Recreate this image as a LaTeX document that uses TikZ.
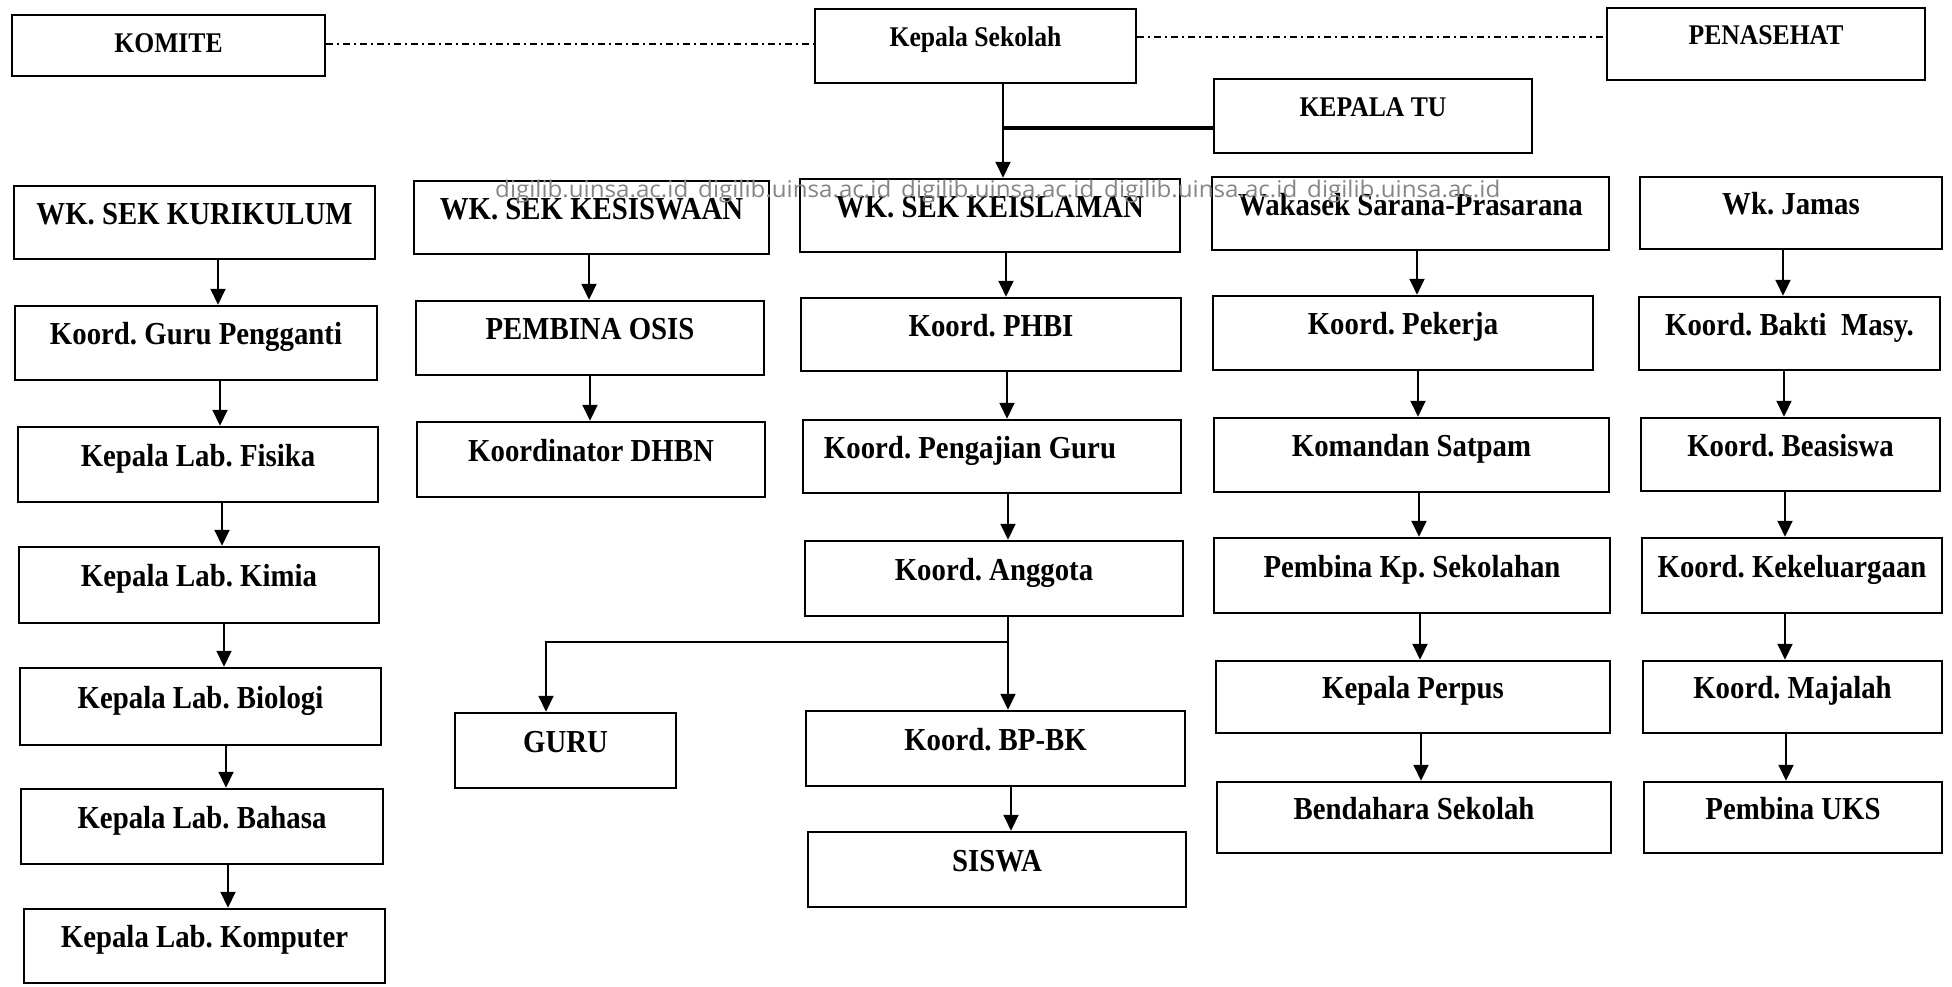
\documentclass[tikz,border=0pt]{standalone}
\usepackage{fontspec}
\setmainfont{Liberation Serif}[FakeStretch=0.9]
\newfontfamily\wmfont{Open Sans}[FakeStretch=1.05]
\usetikzlibrary{arrows.meta}
\frenchspacing
\newcommand\bx[7]{%
  \node[#1, minimum width={(#5-#3)*1pt}, minimum height={(#6-#4)*1pt}]
    (#2) at ({(#3+#5)/2},{(#4+#6)/2}) {#7};}
\begin{document}
\begin{tikzpicture}[x=1pt,y=-1pt,
  box/.style={draw, line width=2.5pt, rectangle, inner sep=0pt,
    text height=24pt, text depth=21pt,
    font=\fontsize{32}{36}\selectfont\bfseries},
  topbox/.style={box, text height=21pt, text depth=21pt,
    font=\fontsize{28.5}{32}\selectfont\bfseries},
  conn/.style={line width=2pt},
  arr/.style={conn, -{Triangle[width=15pt,length=16pt]}},
  dashdot/.style={line width=1.7pt, dash pattern=on 7pt off 4pt on 2pt off 4pt},
  wm/.style={anchor=base west, inner sep=0pt, text=black!48,
    font=\wmfont\fontsize{23}{26}\selectfont}]
\useasboundingbox (0,0) rectangle (1952,986);

% top level
\bx{topbox, text height=27pt, text depth=14pt}{komite}{12}{15}{325}{76}{KOMITE}
\bx{topbox}{kepsek}{815}{9}{1136}{83}{Kepala Sekolah}
\bx{topbox}{penasehat}{1607}{8}{1925}{80}{PENASEHAT}
\bx{topbox}{kepalatu}{1214}{79}{1532}{153}{KEPALA TU}

% row 2
\bx{box}{kurikulum}{14}{186}{375}{259}{WK. SEK KURIKULUM}
\bx{box}{kesiswaan}{414}{181}{769}{254}{WK. SEK KESISWAAN}
\bx{box}{keislaman}{800}{179}{1180}{252}{WK. SEK KEISLAMAN}
\bx{box}{sarpras}{1212}{177}{1609}{250}{Wakasek Sarana-Prasarana}
\bx{box}{jamas}{1640}{177}{1942}{249}{Wk. Jamas}

% column 1
\bx{box}{gurupengganti}{15}{306}{377}{380}{Koord. Guru Pengganti}
\bx{box}{fisika}{18}{427}{378}{502}{Kepala Lab. Fisika}
\bx{box}{kimia}{19}{547}{379}{623}{Kepala Lab. Kimia}
\bx{box}{biologi}{20}{668}{381}{745}{Kepala Lab. Biologi}
\bx{box}{bahasa}{21}{789}{383}{864}{Kepala Lab. Bahasa}
\bx{box}{komputer}{24}{909}{385}{983}{Kepala Lab. Komputer}

% column 2
\bx{box}{osis}{416}{301}{764}{375}{PEMBINA OSIS}
\bx{box}{dhbn}{417}{422}{765}{497}{Koordinator DHBN}

% column 3
\bx{box}{phbi}{801}{298}{1181}{371}{Koord. PHBI}
\bx{box}{pengajian}{803}{420}{1181}{493}{Koord. Pengajian Guru\hspace*{44pt}}
\bx{box}{anggota}{805}{541}{1183}{616}{Koord. Anggota}
\bx{box}{bpbk}{806}{711}{1185}{786}{Koord. BP-BK}
\bx{box}{guru}{455}{713}{676}{788}{GURU}
\bx{box}{siswa}{808}{832}{1186}{907}{SISWA}

% column 4
\bx{box}{pekerja}{1213}{296}{1593}{370}{Koord. Pekerja}
\bx{box}{satpam}{1214}{418}{1609}{492}{Komandan Satpam}
\bx{box}{kampung}{1214}{538}{1610}{613}{Pembina Kp. Sekolahan}
\bx{box}{perpus}{1216}{661}{1610}{733}{Kepala Perpus}
\bx{box}{bendahara}{1217}{782}{1611}{853}{Bendahara Sekolah}

% column 5
\bx{box}{bakti}{1639}{297}{1940}{370}{Koord. Bakti~ Masy.}
\bx{box}{beasiswa}{1641}{418}{1940}{491}{Koord. Beasiswa}
\bx{box}{keluarga}{1642}{538}{1942}{613}{Koord. Kekeluargaan}
\bx{box}{majalah}{1643}{661}{1942}{733}{Koord. Majalah}
\bx{box}{uks}{1644}{782}{1942}{853}{Pembina UKS}

% dash-dot links
\draw[dashdot] (komite.east |- 0,44) -- (kepsek.west |- 0,44);
\draw[dashdot] (kepsek.east |- 0,37) -- (penasehat.west |- 0,37);

% Kepala Sekolah
\draw[arr] (kepsek.south -| 1003,0) -- (keislaman.north -| 1003,0);
\coordinate (tujn) at (1003,128);
\draw[conn, line width=3.4pt] (tujn) -- (kepalatu.west |- tujn);

% column 1 arrows
\draw[arr] (kurikulum.south -| 218,0) -- (gurupengganti.north -| 218,0);
\draw[arr] (gurupengganti.south -| 220,0) -- (fisika.north -| 220,0);
\draw[arr] (fisika.south -| 222,0) -- (kimia.north -| 222,0);
\draw[arr] (kimia.south -| 224,0) -- (biologi.north -| 224,0);
\draw[arr] (biologi.south -| 226,0) -- (bahasa.north -| 226,0);
\draw[arr] (bahasa.south -| 228,0) -- (komputer.north -| 228,0);

% column 2 arrows
\draw[arr] (kesiswaan.south -| 589,0) -- (osis.north -| 589,0);
\draw[arr] (osis.south -| 590,0) -- (dhbn.north -| 590,0);

% column 3 arrows
\draw[arr] (keislaman.south -| 1006,0) -- (phbi.north -| 1006,0);
\draw[arr] (phbi.south -| 1007,0) -- (pengajian.north -| 1007,0);
\draw[arr] (pengajian.south -| 1008,0) -- (anggota.north -| 1008,0);
\draw[arr] (anggota.south -| 1008,0) -- (bpbk.north -| 1008,0);
\coordinate (br) at (1008,642);
\draw[arr] (br) -| (guru.north -| 546,0);
\draw[arr] (bpbk.south -| 1011,0) -- (siswa.north -| 1011,0);

% column 4 arrows
\draw[arr] (sarpras.south -| 1417,0) -- (pekerja.north -| 1417,0);
\draw[arr] (pekerja.south -| 1418,0) -- (satpam.north -| 1418,0);
\draw[arr] (satpam.south -| 1419,0) -- (kampung.north -| 1419,0);
\draw[arr] (kampung.south -| 1420,0) -- (perpus.north -| 1420,0);
\draw[arr] (perpus.south -| 1421,0) -- (bendahara.north -| 1421,0);

% column 5 arrows
\draw[arr] (jamas.south -| 1783,0) -- (bakti.north -| 1783,0);
\draw[arr] (bakti.south -| 1784,0) -- (beasiswa.north -| 1784,0);
\draw[arr] (beasiswa.south -| 1785,0) -- (keluarga.north -| 1785,0);
\draw[arr] (keluarga.south -| 1785,0) -- (majalah.north -| 1785,0);
\draw[arr] (majalah.south -| 1786,0) -- (uks.north -| 1786,0);

% watermark
\foreach \i in {0,...,4}{
  \node[wm] (wm\i) at ({495+203*\i},197) {digilib.uinsa.ac.id};
}
\end{tikzpicture}
\end{document}
